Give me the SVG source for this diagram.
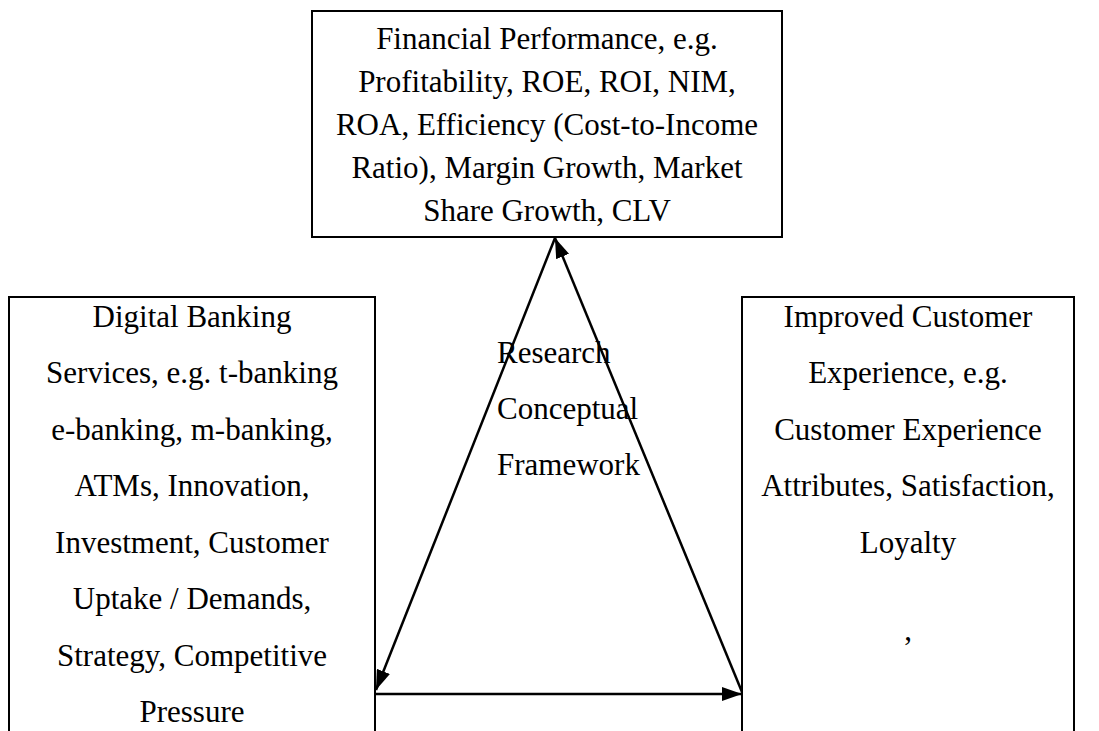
<svg xmlns="http://www.w3.org/2000/svg" width="1099" height="731" viewBox="0 0 1099 731">
<defs>
<marker id="ah" viewBox="0 0 20 14" refX="20" refY="7" markerWidth="20" markerHeight="14" markerUnits="userSpaceOnUse" orient="auto">
<path d="M0,0 L20,7 L0,14 Z" fill="#000"/>
</marker>
</defs>
<style>
.box{fill:#fff;stroke:#000;stroke-width:2}
.t{font-family:"Liberation Serif","Times New Roman",serif;font-size:31px;fill:#000;text-anchor:middle}
.l{font-family:"Liberation Serif","Times New Roman",serif;font-size:31px;fill:#000;text-anchor:start}
.c{stroke:#000;stroke-width:2.5;fill:none}
</style>
<rect width="1099" height="731" fill="#fff"/>
<g id="financial">
<rect class="box" x="312" y="11" width="470" height="226"/>
<text class="t" x="547" y="49">Financial Performance, e.g.</text>
<text class="t" x="547" y="92">Profitability, ROE, ROI, NIM,</text>
<text class="t" x="547" y="135">ROA, Efficiency (Cost-to-Income</text>
<text class="t" x="547" y="178">Ratio), Margin Growth, Market</text>
<text class="t" x="547" y="221">Share Growth, CLV</text>
</g>
<g id="digital">
<path class="box" d="M9,740 V297 H375 V740"/>
<text class="t" x="192" y="327">Digital Banking</text>
<text class="t" x="192" y="383">Services, e.g. t-banking</text>
<text class="t" x="192" y="440">e-banking, m-banking,</text>
<text class="t" x="192" y="496">ATMs, Innovation,</text>
<text class="t" x="192" y="553">Investment, Customer</text>
<text class="t" x="192" y="609">Uptake / Demands,</text>
<text class="t" x="192" y="666">Strategy, Competitive</text>
<text class="t" x="192" y="722">Pressure</text>
</g>
<g id="experience">
<path class="box" d="M742,740 V297 H1074 V740"/>
<text class="t" x="908" y="327">Improved Customer</text>
<text class="t" x="908" y="383">Experience, e.g.</text>
<text class="t" x="908" y="440">Customer Experience</text>
<text class="t" x="908" y="496">Attributes, Satisfaction,</text>
<text class="t" x="908" y="553">Loyalty</text>
<text class="t" x="908" y="640">,</text>
</g>
<g id="framework">
<text class="l" x="497" y="363">Research</text>
<text class="l" x="497" y="419">Conceptual</text>
<text class="l" x="497" y="475">Framework</text>
</g>
<g id="connectors">
<line class="c" x1="555" y1="238" x2="376" y2="690" marker-end="url(#ah)"/>
<line class="c" x1="742" y1="692" x2="555" y2="238" marker-end="url(#ah)"/>
<line class="c" x1="376" y1="694" x2="742" y2="694" marker-end="url(#ah)"/>
</g>
</svg>
